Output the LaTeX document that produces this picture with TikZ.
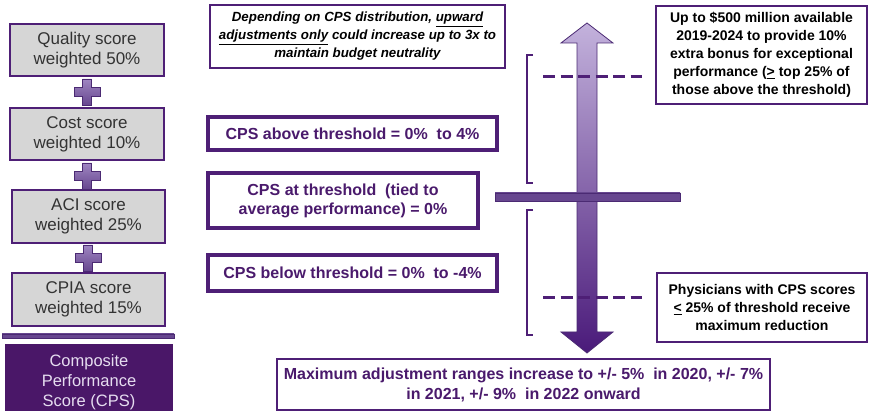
\documentclass[tikz,border=0pt]{standalone}
\usepackage{fontspec}
\setmainfont{Liberation Sans}
\usetikzlibrary{calc}

\definecolor{pur}{HTML}{4E1F76}
\definecolor{purtxt}{HTML}{4A1A6C}
\definecolor{cpsfill}{HTML}{4A1768}
\definecolor{boxgray}{HTML}{D6D6D6}
\definecolor{cpstext}{HTML}{E6DDF0}
\definecolor{plustop}{HTML}{9F86C2}
\definecolor{plusbot}{HTML}{67478F}
\definecolor{arrtop}{HTML}{C3B2DC}
\definecolor{arrbot}{HTML}{4A1A7A}
\definecolor{baredge}{HTML}{4B2A73}

\begin{document}
\begin{tikzpicture}[x=1pt,y=-1pt,
  scorebox/.style={draw=pur, line width=1.6pt, fill=boxgray, align=center,
    inner sep=0pt, text=black!80, font=\fontsize{17}{20}\selectfont},
  cpsbox/.style={fill=cpsfill, align=center, inner sep=0pt, text=cpstext,
    font=\fontsize{16.5}{20}\selectfont},
  rangebox/.style={draw=pur, line width=3.5pt, fill=white, align=center,
    inner sep=0pt, text=purtxt, font=\bfseries\fontsize{16}{19}\selectfont},
  notebox/.style={draw=pur, line width=1.8pt, fill=white, align=center,
    inner sep=0pt, text=black, font=\bfseries\fontsize{14}{18}\selectfont},
  plussign/.pic={
    \path[draw=baredge, line width=0.8pt, top color=plustop, bottom color=plusbot]
      (-4.5,-13) -- (4.5,-13) -- (4.5,-4.5) -- (13,-4.5) -- (13,4.5) -- (4.5,4.5)
      -- (4.5,13) -- (-4.5,13) -- (-4.5,4.5) -- (-13,4.5) -- (-13,-4.5)
      -- (-4.5,-4.5) -- cycle;
  },
  bracket/.style={draw=pur, line width=2.4pt},
  dashline/.style={draw=pur, line width=3pt, dash pattern=on 12pt off 5.5pt},
  barstyle/.style={draw=baredge, line width=0.8pt, top color=plusbot,
    middle color=plustop, bottom color=plusbot}
]
\useasboundingbox (0,0) rectangle (870,411);

% ---- score components ----
\node[scorebox, minimum width=154pt, minimum height=52pt] (quality) at (87,50)
  {Quality score\\weighted 50\%};
\node[scorebox, minimum width=154pt, minimum height=52pt] (cost) at (87,134)
  {Cost score\\weighted 10\%};
\node[scorebox, minimum width=153pt, minimum height=53pt] (aci) at (88.5,216.5)
  {ACI score\\weighted 25\%};
\node[scorebox, minimum width=153pt, minimum height=53pt] (cpia) at (88.5,299.5)
  {CPIA score\\weighted 15\%};

\pic (plusA) at (87,92) {plussign};
\pic (plusB) at (87,176) {plussign};
\pic (plusC) at (88,258) {plussign};

% sum line and result
\coordinate (sumL) at (2,334);
\coordinate (sumR) at (174,338);
\path[barstyle] (sumL) rectangle (sumR);
\node[cpsbox, minimum width=168pt, minimum height=76pt] (cps) at (89,382)
  {Composite\\Performance\\Score (CPS)};

% ---- adjustment notes ----
\node[notebox, line width=2.4pt, minimum width=295pt, minimum height=63pt,
  font=\bfseries\itshape\fontsize{13.3}{18}\selectfont] (budget) at (357.5,36.5)
  {Depending on CPS distribution, \underline{upward}\\
   \underline{adjustments only} could increase up to 3x to\\
   maintain budget neutrality};

\node[rangebox, minimum width=289pt, minimum height=33pt] (above) at (352.5,133.5)
  {CPS above threshold = 0\%\ \ to 4\%};
\node[rangebox, minimum width=270pt, minimum height=55pt] (atthr) at (343,200.5)
  {CPS at threshold\ \ (tied to\\average performance) = 0\%};
\node[rangebox, minimum width=289pt, minimum height=36pt] (below) at (352.5,273)
  {CPS below threshold = 0\%\ \ to -4\%};

% ---- brackets ----
\coordinate (ubT) at (527,55);
\coordinate (ubB) at (527,183);
\coordinate (lbT) at (527,210);
\coordinate (lbB) at (527,335);
\draw[bracket] ([xshift=6pt]ubT) -- (ubT) -- (ubB) -- ([xshift=6pt]ubB);
\draw[bracket] ([xshift=6pt]lbT) -- (lbT) -- (lbB) -- ([xshift=6pt]lbB);

% ---- payment scale arrow ----
\path[draw=baredge, line width=0.8pt, top color=arrtop, bottom color=arrbot]
  (587,23) -- (613,43) -- (597,43) -- (597,332) -- (613,332) -- (587,353)
  -- (561,332) -- (577,332) -- (577,43) -- (561,43) -- cycle;

% exceptional / maximum reduction levels
\coordinate (exL) at (543,77);
\coordinate (exR) at (642,77);
\coordinate (mrL) at (543,298);
\coordinate (mrR) at (642,298);
\draw[dashline] (exL) -- (exR);
\draw[dashline] (mrL) -- (mrR);

% threshold bar
\coordinate (thL) at (495,193);
\coordinate (thR) at (680,201);
\path[barstyle] (thL) rectangle (thR);

% ---- side notes ----
\node[notebox, minimum width=211pt, minimum height=98pt] (bonus) at (761.5,55)
  {Up to \$500 million available\\2019-2024 to provide 10\%\\
   extra bonus for exceptional\\performance (\underline{>} top 25\% of\\
   those above the threshold)};
\node[notebox, minimum width=210pt, minimum height=69pt] (reduction) at (762,307.5)
  {Physicians with CPS scores\\\underline{<} 25\% of threshold receive\\
   maximum reduction};

\node[notebox, text=purtxt, minimum width=493pt, minimum height=51pt,
  font=\bfseries\fontsize{16}{20}\selectfont] (maxadj) at (523.5,384.5)
  {Maximum adjustment ranges increase to +/- 5\%\ \ in 2020, +/- 7\%\\
   in 2021, +/- 9\%\ \ in 2022 onward};

\end{tikzpicture}
\end{document}
